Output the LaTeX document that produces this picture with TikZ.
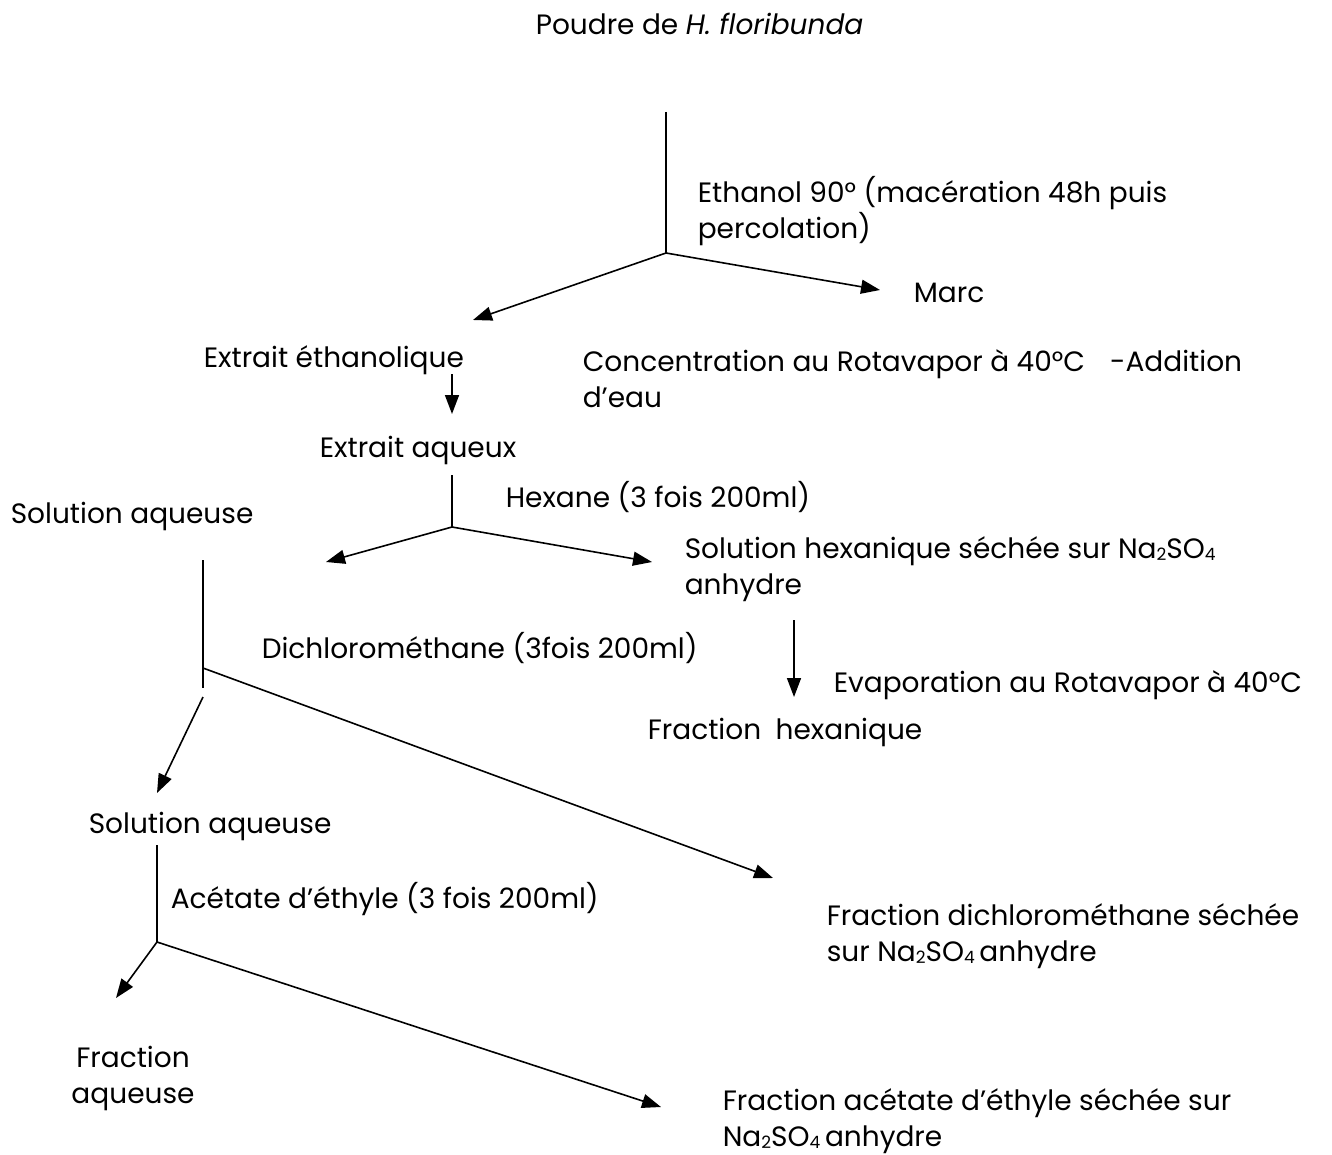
\documentclass[tikz,border=0pt]{standalone}
\usepackage{fontspec}
\setmainfont{Poppins}
\usetikzlibrary{arrows.meta}
\newcommand{\nasub}[1]{\raisebox{-2pt}{\fontsize{17}{17}\selectfont #1}}

\begin{document}
\begin{tikzpicture}[x=1pt, y=-1pt, line width=1.6pt,
        >={Triangle[length=19pt,width=14pt]},
        step label/.style={anchor=base west, inner sep=0pt, align=left,
          font=\fontsize{28}{36}\selectfont},
      ]
      \useasboundingbox (0,0) rectangle (1332,1155);

      % products and solvents (multi-line labels sit on their last line)
      \node[step label] (poudre) at (535,35) {Poudre de \textit{H. floribunda}};
      \node[step label] (ethanol) at (697,239) {Ethanol 90° (macération 48h puis\\percolation)};
      \node[step label] (marc) at (913,303) {Marc};
      \node[step label] (extEth) at (203,367) {Extrait éthanolique};
      \node[step label] (conc) at (582,407) {Concentration au Rotavapor à 40°C\hspace{0.9em}-Addition\\d’eau};
      \node[step label] (extAq) at (319,457) {Extrait aqueux};
      \node[step label] (hexane) at (505,507) {Hexane (3 fois 200ml)};
      \node[step label] (solAqA) at (10,523) {Solution aqueuse};
      \node[step label] (solHex) at (684,594) {Solution hexanique séchée sur Na\nasub{2}SO\nasub{4}\\anhydre};
      \node[step label] (dcm) at (261,658) {Dichlorométhane (3fois 200ml)};
      \node[step label] (evap) at (833,692) {Evaporation au Rotavapor à 40°C};
      \node[step label] (fracHex) at (647,739) {Fraction\hspace{0.25em} hexanique};
      \node[step label] (solAqB) at (88,833) {Solution aqueuse};
      \node[step label] (acet) at (170,908) {Acétate d’éthyle (3 fois 200ml)};
      \node[step label] (fracDcm) at (826,961) {Fraction dichlorométhane séchée\\sur Na\nasub{2}SO\nasub{4}\,anhydre};
      \node[step label, anchor=base, align=center] (fracAq) at (133,1103) {Fraction\\aqueuse};
      \node[step label] (fracAcet) at (722,1146) {Fraction acétate d’éthyle séchée sur\\Na\nasub{2}SO\nasub{4}\,anhydre};

      % branch points and arrow ends
      \foreach \name/\x/\y in {topA/666/112, jA/666/253, tipEth/473/320, tipMarc/880/290,
          smallA/452/374, smallB/452/414, topB/452/475, jB/452/527,
          tipL/326/562, tipR/652/562, hexA/794/620, hexB/794/697,
          topC/203/560, jC/203/668, endC/203/688, startC/203/697,
          tipSol/157/793, tipDcm/773/878,
          topD/157/845, jD/157/942, tipAq/116/998, tipAcet/661/1107}
        \coordinate (\name) at (\x,\y);

      % extraction steps
      \draw (topA) -- (jA);
      \draw[->] (jA) -- (tipEth);
      \draw[->] (jA) -- (tipMarc);
      \draw[->] (smallA) -- (smallB);
      \draw (topB) -- (jB);
      \draw[->] (jB) -- (tipL);
      \draw[->] (jB) -- (tipR);
      \draw[->] (hexA) -- (hexB);
      \draw (topC) -- (endC);
      \draw[->] (startC) -- (tipSol);
      \draw[->] (jC) -- (tipDcm);
      \draw (topD) -- (jD);
      \draw[->] (jD) -- (tipAq);
      \draw[->] (jD) -- (tipAcet);
    \end{tikzpicture}
\end{document}
